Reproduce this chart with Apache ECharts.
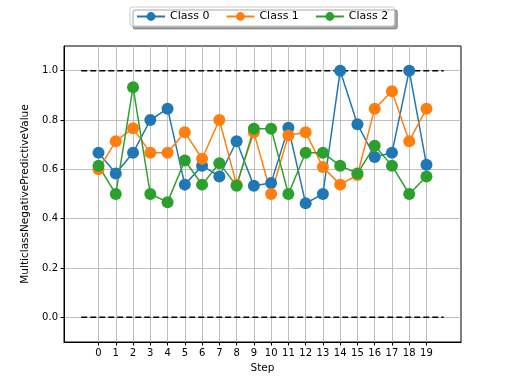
<!DOCTYPE html>
<html><head><meta charset="utf-8">
<script src="https://cdn.jsdelivr.net/npm/echarts@6/dist/echarts.min.js"></script>
<style>html,body{margin:0;padding:0;background:#fff}#c{width:512px;height:384px}</style>
</head><body><div id="c"></div>
<script>
const steps = [0,1,2,3,4,5,6,7,8,9,10,11,12,13,14,15,16,17,18,19];
const class0 = [0.667,0.583,0.667,0.800,0.846,0.538,0.615,0.571,0.714,0.533,0.545,0.769,0.462,0.500,1.000,0.783,0.650,0.667,1.000,0.619];
const class1 = [0.600,0.714,0.767,0.667,0.667,0.750,0.643,0.800,0.538,0.750,0.500,0.737,0.750,0.609,0.538,0.577,0.846,0.917,0.714,0.846];
const class2 = [0.615,0.500,0.933,0.500,0.467,0.636,0.538,0.625,0.533,0.765,0.765,0.500,0.667,0.667,0.615,0.583,0.696,0.615,0.500,0.571];
const yTicks = [0.0,0.2,0.4,0.6,0.8,1.0];
const refX = [-1,20];
const upperRef = [1,1];
const lowerRef = [0,0];
const names = ['Class 0','Class 1','Class 2'];
const colors = ['#1f77b4','#ff7f0e','#2ca02c'];

const chart = echarts.init(document.getElementById('c'));
const font = 'DejaVu Sans';
function pts(vals){ return steps.map((s,i)=>[s,vals[i]]); }
const mk = (name, vals, color) => ({
  name, type:'line', data: pts(vals), symbol:'circle', symbolSize:12,
  itemStyle:{color}, lineStyle:{color, width:1.5}, z:3
});
const ref = (vals) => ({
  type:'line', data: refX.map((x,i)=>[x,vals[i]]), symbol:'none',
  lineStyle:{color:'#000', width:1.5, type:[6,3]}, z:2, silent:true
});
chart.setOption({
  animation:false,
  grid:{left:64,right:51,top:46,bottom:42,show:true,borderColor:'#000',borderWidth:1,backgroundColor:'transparent'},
  legend:{
    data:names, left:130, top:7, itemWidth:28, itemHeight:11, itemGap:16,
    padding:[4,6,4,6],
    backgroundColor:'#fff', borderColor:'#ccc', borderWidth:1, borderRadius:2,
    shadowColor:'rgba(0,0,0,0.35)', shadowOffsetX:3, shadowOffsetY:3, shadowBlur:0,
    textStyle:{fontFamily:font, fontSize:11, color:'#000'}
  },
  xAxis:{
    type:'value', min:-2, max:21, name:'Step', nameLocation:'middle', nameGap:21,
    nameTextStyle:{fontFamily:font, fontSize:10.5, color:'#000'},
    axisLine:{show:true, onZero:false, lineStyle:{color:'#000'}},
    axisTick:{show:true, length:3.5, lineStyle:{color:'#000'}, customValues:steps},
    axisLabel:{fontFamily:font, fontSize:10, color:'#000', margin:6, customValues:steps},
    splitLine:{show:true, lineStyle:{color:'#b0b0b0', width:0.8}, customValues:steps}
  },
  yAxis:{
    type:'value', min:-0.1, max:1.1, name:'MulticlassNegativePredictiveValue', nameLocation:'middle', nameGap:30,
    nameTextStyle:{fontFamily:font, fontSize:10.5, color:'#000'},
    axisLine:{show:true, onZero:false, lineStyle:{color:'#000'}},
    axisTick:{show:true, length:3.5, lineStyle:{color:'#000'}, customValues:yTicks},
    axisLabel:{fontFamily:font, fontSize:10, color:'#000', margin:6, customValues:yTicks, formatter:v=>v.toFixed(1)},
    splitLine:{show:true, lineStyle:{color:'#b0b0b0', width:0.8}, customValues:yTicks}
  },
  series:[
    ref(upperRef), ref(lowerRef),
    mk(names[0], class0, colors[0]),
    mk(names[1], class1, colors[1]),
    mk(names[2], class2, colors[2])
  ]
});
</script></body></html>
